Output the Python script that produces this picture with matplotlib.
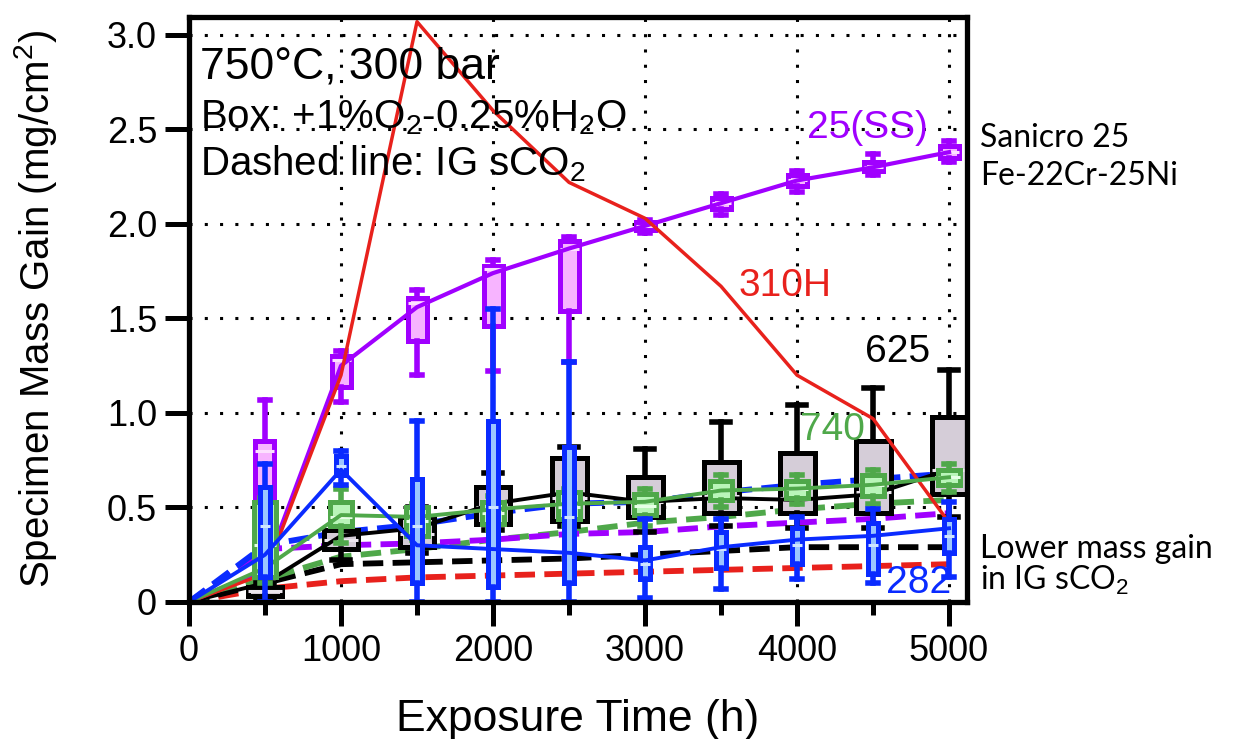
import matplotlib.pyplot as plt
from matplotlib.ticker import MultipleLocator

plt.rcParams['font.family'] = ['Liberation Sans', 'DejaVu Sans']
plt.rcParams['mathtext.fontset'] = 'custom'
plt.rcParams['mathtext.rm'] = 'Liberation Sans'
plt.rcParams['mathtext.it'] = 'Liberation Sans:italic'

# exposure times of the boxes (h); lines start at the origin
times = [500, 1000, 1500, 2000, 2500, 3000, 3500, 4000, 4500, 5000]
line_t = [0] + times

# 625 (black): box stats, +1%O2-0.25%H2O
a625_lo = [0.02, 0.22, 0.26, 0.38, 0.40, 0.37, 0.40, 0.39, 0.39, 0.45]
a625_q1 = [0.03, 0.28, 0.29, 0.41, 0.43, 0.45, 0.47, 0.47, 0.47, 0.57]
a625_med = [0.06, 0.33, 0.36, 0.50, 0.55, 0.53, 0.56, 0.55, 0.58, 0.70]
a625_q3 = [0.08, 0.38, 0.45, 0.61, 0.76, 0.66, 0.74, 0.79, 0.85, 0.98]
a625_hi = [0.10, 0.45, 0.50, 0.68, 0.82, 0.81, 0.95, 1.04, 1.13, 1.23]
a625_mean = [0, 0.10, 0.35, 0.39, 0.52, 0.58, 0.53, 0.55, 0.54, 0.57, 0.70]

# 740 (green)
a740_lo = [0.10, 0.31, 0.33, 0.38, 0.40, 0.40, 0.50, 0.52, 0.52, 0.58]
a740_q1 = [0.13, 0.40, 0.35, 0.41, 0.44, 0.46, 0.54, 0.55, 0.56, 0.62]
a740_med = [0.30, 0.45, 0.43, 0.47, 0.50, 0.51, 0.59, 0.60, 0.62, 0.66]
a740_q3 = [0.53, 0.53, 0.50, 0.53, 0.58, 0.57, 0.64, 0.64, 0.67, 0.70]
a740_hi = [0.55, 0.60, 0.52, 0.56, 0.60, 0.60, 0.67, 0.67, 0.70, 0.73]
a740_mean = [0, 0.18, 0.46, 0.45, 0.49, 0.52, 0.53, 0.59, 0.60, 0.62, 0.66]

# 282 (blue)
a282_lo = [0.00, 0.62, 0.00, 0.00, 0.00, 0.02, 0.07, 0.12, 0.10, 0.13]
a282_q1 = [0.13, 0.67, 0.10, 0.08, 0.10, 0.12, 0.18, 0.20, 0.15, 0.26]
a282_med = [0.40, 0.72, 0.40, 0.50, 0.45, 0.20, 0.28, 0.30, 0.30, 0.35]
a282_q3 = [0.61, 0.77, 0.65, 0.96, 0.82, 0.29, 0.37, 0.39, 0.42, 0.44]
a282_hi = [0.73, 0.80, 0.96, 1.55, 1.27, 0.44, 0.44, 0.45, 0.49, 0.53]
a282_mean = [0, 0.25, 0.70, 0.30, 0.28, 0.26, 0.22, 0.29, 0.33, 0.35, 0.39]

# Sanicro 25 (purple)
s25_lo = [0.15, 1.06, 1.20, 1.22, 1.27, 1.95, 2.05, 2.17, 2.26, 2.33]
s25_q1 = [0.30, 1.14, 1.38, 1.46, 1.54, 1.97, 2.08, 2.20, 2.28, 2.35]
s25_med = [0.80, 1.28, 1.58, 1.76, 1.87, 1.99, 2.11, 2.23, 2.30, 2.38]
s25_q3 = [0.85, 1.30, 1.61, 1.78, 1.91, 2.01, 2.14, 2.26, 2.33, 2.41]
s25_hi = [1.07, 1.33, 1.65, 1.81, 1.93, 2.02, 2.16, 2.28, 2.37, 2.44]
s25_mean = [0, 0.17, 1.25, 1.56, 1.74, 1.87, 1.99, 2.11, 2.23, 2.30, 2.38]

# 310H in the same environment
h310 = [0, 0.15, 1.20, 3.07, 2.60, 2.22, 2.03, 1.67, 1.20, 0.97, 0.42]

# IG sCO2 averages (dashed)
ig_s25 = [0, 0.28, 0.30, 0.31, 0.33, 0.36, 0.37, 0.40, 0.42, 0.44, 0.47]
ig_282 = [0, 0.30, 0.37, 0.41, 0.47, 0.52, 0.53, 0.58, 0.62, 0.65, 0.68]
ig_740 = [0, 0.12, 0.24, 0.28, 0.33, 0.37, 0.42, 0.45, 0.49, 0.52, 0.54]
ig_625 = [0, 0.10, 0.20, 0.21, 0.22, 0.23, 0.25, 0.27, 0.29, 0.29, 0.29]
ig_310 = [0, 0.07, 0.11, 0.13, 0.14, 0.15, 0.16, 0.17, 0.18, 0.19, 0.20]

PURPLE = '#a000ff'
BLACK = '#000000'
GREEN = '#4fa84a'
BLUE = '#0a2bff'
RED = '#e8211c'


def stats(lo, q1, med, q3, hi):
    return [dict(whislo=a, q1=b, med=c, q3=d, whishi=e)
            for a, b, c, d, e in zip(lo, q1, med, q3, hi)]


def boxes(ax, st, edge, fill, medc, width, capw, z):
    ax.bxp(st, positions=times, widths=width, capwidths=capw,
           patch_artist=True, showfliers=False, manage_ticks=False,
           boxprops=dict(facecolor=fill, edgecolor=edge, linewidth=3.6),
           whiskerprops=dict(color=edge, linewidth=4),
           capprops=dict(color=edge, linewidth=4),
           medianprops=dict(color=medc, linewidth=2.2),
           zorder=z)


fig = plt.figure(figsize=(12.45, 7.39), dpi=100)
ax = fig.add_axes([0.1518, 0.1854, 0.6249, 0.7916])

dash = (0, (3.5, 1.6))
ax.plot(line_t, ig_310, color=RED, lw=4.2, ls=dash, zorder=2)
ax.plot(line_t, ig_625, color=BLACK, lw=4.2, ls=dash, zorder=2)
ax.plot(line_t, ig_740, color=GREEN, lw=4.2, ls=dash, zorder=2)
ax.plot(line_t, ig_s25, color=PURPLE, lw=4.2, ls=dash, zorder=2)
ax.plot(line_t, ig_282, color=BLUE, lw=4.2, ls=dash, zorder=2)

boxes(ax, stats(a625_lo, a625_q1, a625_med, a625_q3, a625_hi),
      BLACK, '#d5cdd8', '#ece6ee', 230, 120, 3)
ax.plot(line_t, a625_mean, color=BLACK, lw=2.8, zorder=3.5)

boxes(ax, stats(s25_lo, s25_q1, s25_med, s25_q3, s25_hi),
      PURPLE, '#f7b4ff', '#fde0ff', 125, 60, 4)
ax.plot(line_t, s25_mean, color=PURPLE, lw=3.0, zorder=4.5)

ax.plot(line_t, h310, color=RED, lw=2.5, zorder=5)

boxes(ax, stats(a740_lo, a740_q1, a740_med, a740_q3, a740_hi),
      GREEN, '#b9f5b9', '#e6ffe6', 150, 60, 6)
ax.plot(line_t, a740_mean, color=GREEN, lw=2.8, zorder=6.5)

boxes(ax, stats(a282_lo, a282_q1, a282_med, a282_q3, a282_hi),
      BLUE, '#9cc6ff', '#cfe4ff', 60, 60, 7)
ax.plot(line_t, a282_mean, color=BLUE, lw=2.8, zorder=7.5)

# alloy labels
ax.text(4461, 2.51, '25(SS)', color=PURPLE, fontsize=28, ha='center', va='center', zorder=9)
ax.text(3921, 1.67, '310H', color=RED, fontsize=28, ha='center', va='center', zorder=9)
ax.text(4664, 1.32, '625', color=BLACK, fontsize=28, ha='center', va='center', zorder=9)
ax.text(4230, 0.91, '740', color=GREEN, fontsize=28, ha='center', va='center', zorder=9)
ax.text(4803, 0.10, '282', color=BLUE, fontsize=28, ha='center', va='center', zorder=9)

# conditions
ax.text(0.014, 0.895, '750°C, 300 bar', transform=ax.transAxes, fontsize=32, zorder=9)
ax.text(0.014, 0.81, 'Box: +1%O$_2$-0.25%H$_2$O', transform=ax.transAxes, fontsize=29, zorder=9)
ax.text(0.014, 0.73, 'Dashed line: IG sCO$_2$', transform=ax.transAxes, fontsize=29, zorder=9)

ax.set_xlim(0, 5118)
ax.set_ylim(0, 3.095)
ax.xaxis.set_major_locator(MultipleLocator(1000))
ax.xaxis.set_minor_locator(MultipleLocator(500))
ax.set_yticks([0, 0.5, 1.0, 1.5, 2.0, 2.5, 3.0])
ax.set_yticklabels(['0', '0.5', '1.0', '1.5', '2.0', '2.5', '3.0'])

ax.grid(True, which='major', color='k', ls=(0, (1, 4)), lw=2.2)
ax.set_axisbelow(True)
for s in ax.spines.values():
    s.set_linewidth(3.8)
    s.set_zorder(10)
ax.tick_params(which='major', direction='out', length=17, width=3.6, labelsize=26, pad=6)
ax.tick_params(which='minor', direction='out', length=9, width=3.6)
ax.tick_params(axis='y', which='minor', length=0)

ax.set_xlabel('Exposure Time (h)', fontsize=32, labelpad=22)
ax.set_ylabel('Specimen Mass Gain (mg/cm$^2$)', fontsize=29, labelpad=34)

# notes to the right of the frame
note = dict(fontsize=23, family=['Lato', 'DejaVu Sans'], va='baseline')
fig.text(980 / 1245, 1 - 147 / 739, 'Sanicro 25', **note)
fig.text(980 / 1245, 1 - 185 / 739, 'Fe-22Cr-25Ni', **note)
fig.text(980 / 1245, 1 - 558 / 739, 'Lower mass gain', **note)
fig.text(980 / 1245, 1 - 590 / 739, 'in IG sCO$_2$', **note)

fig.savefig('out.png', dpi=100)
